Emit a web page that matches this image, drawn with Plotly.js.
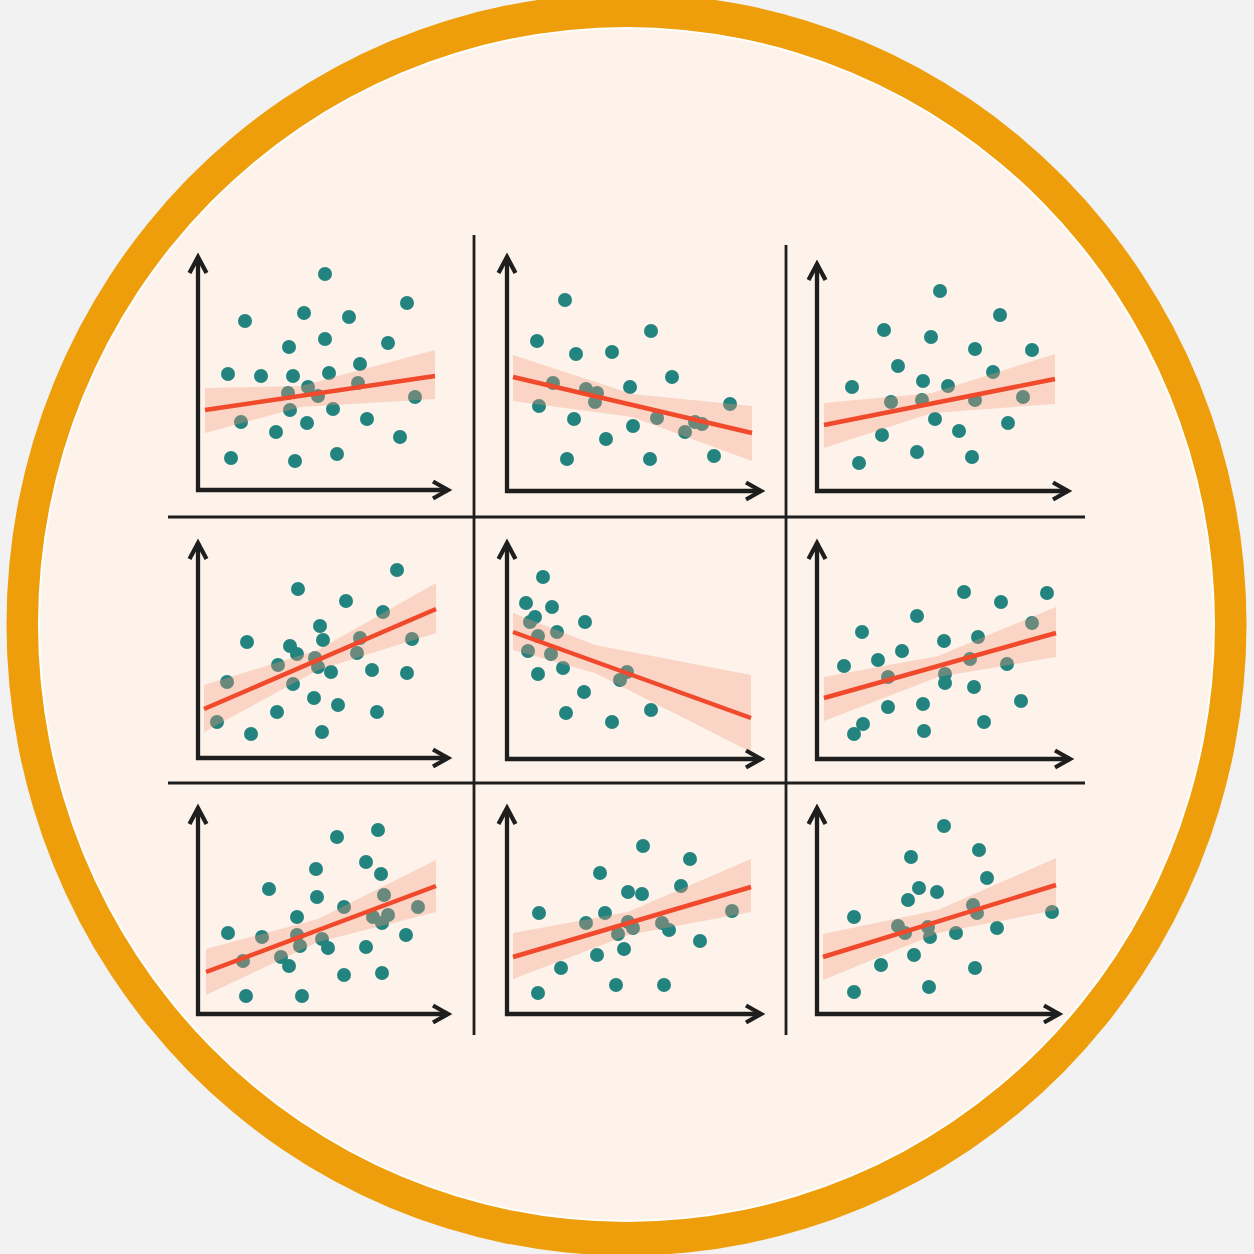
<!DOCTYPE html>
<html>
<head>
<meta charset="utf-8">
<script src="https://cdn.plot.ly/plotly-3.0.1.min.js"></script>
<style>
  html, body { margin: 0; padding: 0; background: #F2F2F2; }
  #chart { width: 1254px; height: 1254px; }
</style>
</head>
<body>
<div id="chart"></div>
<script>
// ---- Data (units relative to each panel's origin) ----
const p1x = [127,209,47,106,151,127,91,190,162,30,63,95,131,160,110,90,120,217,92,135,43,109,169,78,202,33,97,139];
const p1y = [216,187,169,177,173,151,143,147,126,116,114,114,117,107,103,97,94,93,80,81,68,67,71,58,53,32,29,36];
const p2x = [58,144,30,69,105,165,46,79,90,88,123,32,223,67,126,150,195,188,178,99,60,143,207];
const p2y = [191,160,150,137,139,114,108,102,98,89,104,85,87,72,65,73,67,69,59,52,32,32,35];
const p3x = [123,183,67,114,158,215,81,176,106,35,131,74,105,158,206,118,191,65,142,100,155,42];
const p3y = [200,176,161,154,142,141,125,119,110,104,105,89,91,91,94,72,68,56,60,39,34,28];
const p4x = [199,100,148,185,122,49,92,125,162,214,99,159,80,117,120,133,174,209,29,95,116,140,79,179,19,53,124];
const p4y = [188,169,157,146,132,116,112,118,120,119,104,105,93,100,91,86,88,85,76,74,60,53,46,46,36,24,26];
const p5x = [36,19,45,78,28,23,50,31,21,44,56,31,120,113,77,144,59,105];
const p5y = [182,156,152,137,142,137,127,123,108,105,91,85,87,79,67,49,46,37];
const p6x = [147,230,184,100,215,45,161,127,85,61,153,190,27,71,128,128,157,204,71,106,46,167,37,107];
const p6y = [167,166,157,143,136,127,122,118,108,99,100,95,93,82,85,76,72,58,52,55,35,37,25,28];
const p7x = [180,139,168,118,183,71,119,186,146,220,99,175,190,184,30,64,99,102,124,208,130,168,45,83,91,146,184,48,104];
const p7y = [184,177,152,145,140,125,117,119,107,107,97,97,99,91,81,77,79,68,75,79,66,67,53,57,48,39,41,18,18];
const p8x = [136,183,93,174,121,135,32,98,225,79,121,126,155,162,111,193,117,90,54,109,157,31];
const p8y = [168,155,141,128,122,120,101,101,103,91,92,86,91,84,80,73,65,59,46,29,29,21];
const p9x = [127,162,94,170,102,120,91,156,160,37,235,81,88,111,113,139,180,97,64,158,112,37];
const p9y = [188,164,157,136,126,122,114,109,101,97,102,88,81,87,77,81,86,59,49,46,27,22];

const fitStart = [[7,80],[6,114],[7,66],[6,49],[6,127],[7,61],[8,42],[6,57],[6,57]];
const fitEnd   = [[237,114],[245,58],[238,112],[238,149],[244,41],[239,126],[238,128],[244,127],[239,129]];
const bandX     = [[7,103,237],[6,125,245],[7,115,238],[6,120,238],[6,88,244],[7,121,239],[8,120,238],[6,121,244],[6,121,239]];
const bandUpper = [[102,104,140],[136,97,85],[88,98,137],[73,108,175],[146,114,84],[82,103,152],[65,95,154],[81,102,155],[80,104,156]];
const bandLower = [[57,83,91],[90,74,30],[43,78,87],[26,88,125],[109,86,7],[38,82,102],[19,72,102],[35,79,102],[34,81,104]];

// ---- Layout geometry (pixels) ----
const S = 1254;
const geom = [
  {ox:198, oy:490, w:250, h:233},
  {ox:507, oy:491, w:254, h:234},
  {ox:817, oy:491, w:251, h:227},
  {ox:198, oy:758, w:250, h:215},
  {ox:507, oy:759, w:254, h:216},
  {ox:817, oy:759, w:253, h:216},
  {ox:198, oy:1014, w:250, h:206},
  {ox:507, oy:1014, w:254, h:206},
  {ox:817, oy:1014, w:242, h:206}
];
const px = v => v / S;
const py = v => 1 - v / S;

const xs = [p1x,p2x,p3x,p4x,p5x,p6x,p7x,p8x,p9x];
const ys = [p1y,p2y,p3y,p4y,p5y,p6y,p7y,p8y,p9y];

const TEAL = '#23837F';
const RED = '#F0492B';
const BAND = 'rgba(247,150,118,0.33)';
const INK = '#1E1E1E';

const traces = [];
const layout = {
  width: S, height: S,
  margin: {l:0, r:0, t:0, b:0},
  paper_bgcolor: '#F2F2F2',
  plot_bgcolor: 'rgba(0,0,0,0)',
  showlegend: false,
  hovermode: false,
  shapes: []
};

// Circle badge
function ellipse(cx, cy, rx, ry, color) {
  return {type:'circle', xref:'paper', yref:'paper', layer:'below',
    x0: px(cx-rx), x1: px(cx+rx), y0: py(cy+ry), y1: py(cy-ry),
    fillcolor: color, line: {width: 0}};
}
layout.shapes.push(ellipse(626.5, 624.5, 620, 631, '#EE9D0B'));
layout.shapes.push(ellipse(626.5, 624.5, 588.5, 597.5, '#FFFFFF'));
layout.shapes.push(ellipse(626.5, 624.5, 586.5, 595.5, '#FDF3EA'));

// Grid dividers
function seg(x0, y0, x1, y1, w, c) {
  return {type:'line', xref:'paper', yref:'paper', layer:'below',
    x0: px(x0), y0: py(y0), x1: px(x1), y1: py(y1), line:{color:c, width:w}};
}
layout.shapes.push(seg(474, 235, 474, 1035, 2.8, '#1E1E1E'));
layout.shapes.push(seg(786, 245, 786, 1035, 2.8, '#1E1E1E'));
layout.shapes.push(seg(168, 517, 1085, 517, 2.8, '#1E1E1E'));
layout.shapes.push(seg(168, 783, 1085, 783, 2.8, '#1E1E1E'));

geom.forEach((g, i) => {
  const n = i + 1;
  const xa = 'xaxis' + (n === 1 ? '' : n);
  const ya = 'yaxis' + (n === 1 ? '' : n);
  layout[xa] = {domain:[px(g.ox), px(g.ox + g.w)], range:[0, g.w], visible:false, fixedrange:true,
    anchor: 'y' + (n === 1 ? '' : n)};
  layout[ya] = {domain:[py(g.oy), py(g.oy - g.h)], range:[0, g.h], visible:false, fixedrange:true,
    anchor: 'x' + (n === 1 ? '' : n)};
  const xr = 'x' + (n === 1 ? '' : n);
  const yr = 'y' + (n === 1 ? '' : n);

  // axes with arrowheads (paper coordinates from pixel geometry)
  const P = (x, y) => px(x) + ',' + py(y);
  const top = g.oy - g.h, right = g.ox + g.w;
  layout.shapes.push({type:'path', xref:'paper', yref:'paper', layer:'above',
    path: 'M' + P(g.ox, top) + ' L' + P(g.ox, g.oy) + ' L' + P(right, g.oy),
    line:{color:INK, width:4.3}});
  layout.shapes.push({type:'path', xref:'paper', yref:'paper', layer:'above',
    path: 'M' + P(g.ox - 8.5, top + 16) + ' L' + P(g.ox, top) + ' L' + P(g.ox + 8.5, top + 16),
    line:{color:INK, width:4.3}});
  layout.shapes.push({type:'path', xref:'paper', yref:'paper', layer:'above',
    path: 'M' + P(right - 15, g.oy - 8.5) + ' L' + P(right, g.oy) + ' L' + P(right - 15, g.oy + 8.5),
    line:{color:INK, width:4.3}});

  // points
  traces.push({type:'scatter', mode:'markers', x: xs[i], y: ys[i], xaxis:xr, yaxis:yr,
    marker:{size:14, color:TEAL, line:{width:0}}, cliponaxis:false, hoverinfo:'skip'});
  // confidence band (drawn over the points)
  const bx = bandX[i].concat(bandX[i].slice().reverse());
  const by = bandUpper[i].concat(bandLower[i].slice().reverse());
  traces.push({type:'scatter', mode:'lines', x: bx, y: by, xaxis:xr, yaxis:yr,
    fill:'toself', fillcolor:BAND, line:{width:0, color:'rgba(0,0,0,0)'}, hoverinfo:'skip'});
  // fit line
  traces.push({type:'scatter', mode:'lines', x:[fitStart[i][0], fitEnd[i][0]], y:[fitStart[i][1], fitEnd[i][1]],
    xaxis:xr, yaxis:yr, line:{color:RED, width:4.5}, cliponaxis:false, hoverinfo:'skip'});
});

Plotly.newPlot('chart', traces, layout, {staticPlot:true, displayModeBar:false});
</script>
</body>
</html>
